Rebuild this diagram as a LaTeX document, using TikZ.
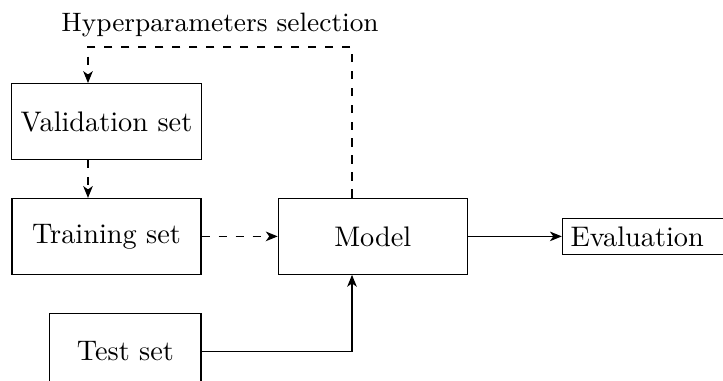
\documentclass[tikz,border=0pt]{standalone}
\usetikzlibrary{arrows.meta, positioning}

\begin{document}
\begin{tikzpicture}[
    x=0.3534pt, y=-0.3534pt,
    box/.style={rectangle, draw=black, minimum width=66.8pt, minimum height=26.8pt},
    arrow/.style={-{Stealth[length=4.2pt, width=3.4pt, inset=1.2pt]}}
]
\clip (0,0) rectangle (723,381);

% Data sets
\node[box] (valid) at (106.5,121.5) {Validation set};
\node[box, below=13.4pt of valid] (train) {Training set};
\node[box, minimum width=53.4pt, below=13.4pt of train, xshift=6.7pt] (test) {Test set};

% Model and evaluation
\node[box, right=26.9pt of train] (model) {Model};
\node[draw=black, text width=2.2cm, align=left, inner sep=2.9pt, right=33.2pt of model] (eval) {Evaluation};

% Feedback path
\coordinate (selR) at (352,47);
\coordinate (selL) at (88,47);

% Connections
\draw[arrow, dashed] (model.north -| selR) -- (selR) -- node[above, font=\fontsize{9.4}{11}\selectfont] {Hyperparameters selection} (selL) -- (valid.north -| selL);
\draw[arrow, dashed] (valid.south -| selL) -- (train.north -| selL);
\draw[arrow, dashed] (train) -- (model);
\draw[arrow] (model) -- (eval);
\draw[arrow] (test) -| (model.south -| selR);

\end{tikzpicture}
\end{document}
